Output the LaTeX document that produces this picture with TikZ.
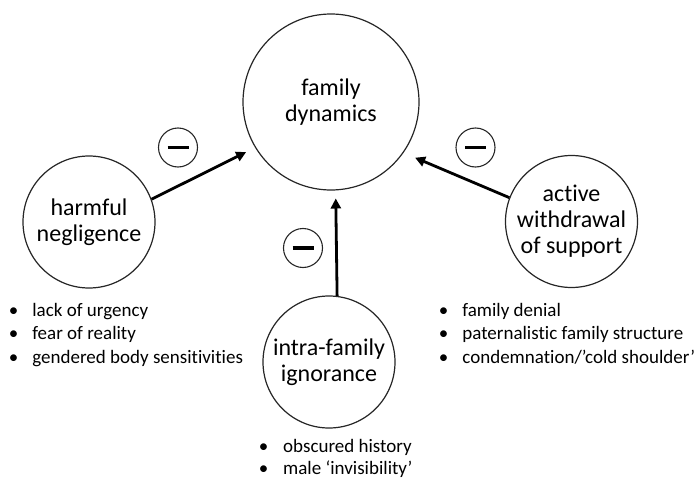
\documentclass[tikz,border=0pt]{standalone}
\usepackage{fontspec}
\setmainfont{Carlito}[Ligatures=NoCommon]
\usetikzlibrary{arrows.meta}
\newcommand{\bul}{\makebox[23.5pt][l]{•}}
\begin{document}
\begin{tikzpicture}[x=1pt,y=-1pt,
  bigc/.style={circle, draw=black!85, line width=1.2pt, inner sep=0pt, align=center,
    font=\fontsize{24}{26}\selectfont},
  minusc/.style={circle, draw=black!85, line width=1.1pt, inner sep=0pt, minimum size=39pt},
  item/.style={anchor=base west, inner sep=0pt, font=\fontsize{19}{23}\selectfont},
  arr/.style={line width=2.8pt, -{Triangle[length=10pt,width=10pt]}}]
\useasboundingbox (0,0) rectangle (697,479);
\node[bigc, minimum size=176pt] (fd) at (331,102) {family\\dynamics};
\node[bigc, minimum size=132pt] (hn) at (89,222) {harmful\\negligence};
\node[bigc, minimum size=132pt] (aw) at (571.5,221.5) {active\\withdrawal\\of support};
\node[bigc, minimum size=132pt] (ig) at (329,362) {intra-family\\ignorance};
\node[minusc] (m1) at (178,147.5) {\rule[-1.8pt]{21pt}{3.6pt}};
\node[minusc] (m2) at (303,248) {\rule[-1.8pt]{21pt}{3.6pt}};
\node[minusc] (m3) at (475.5,147.5) {\rule[-1.8pt]{21pt}{3.6pt}};
\draw[arr, shorten >=10pt] (hn.20.7) -- (fd.211.3);
\draw[arr, shorten >=12.5pt] (aw.159.9) -- (fd.325.5);
\draw[arr, shorten >=8pt] (ig.83.9) -- (fd.273.3);
\node[item] (l1) at (8.7,316) {\bul lack of urgency};
\node[item] (l2) at (8.7,339.5) {\bul fear of reality};
\node[item] (l3) at (8.7,363) {\bul gendered body sensitivities};
\node[item] (r1) at (438.7,316) {\bul family denial};
\node[item] (r2) at (438.7,339.5) {\bul paternalistic family structure};
\node[item] (r3) at (438.7,363) {\bul condemnation/’cold shoulder’};
\node[item] (b1) at (258.7,452) {\makebox[24.3pt][l]{•}obscured history};
\node[item] (b2) at (258.7,474) {\makebox[24.3pt][l]{•}male ‘invisibility’};
\end{tikzpicture}
\end{document}
